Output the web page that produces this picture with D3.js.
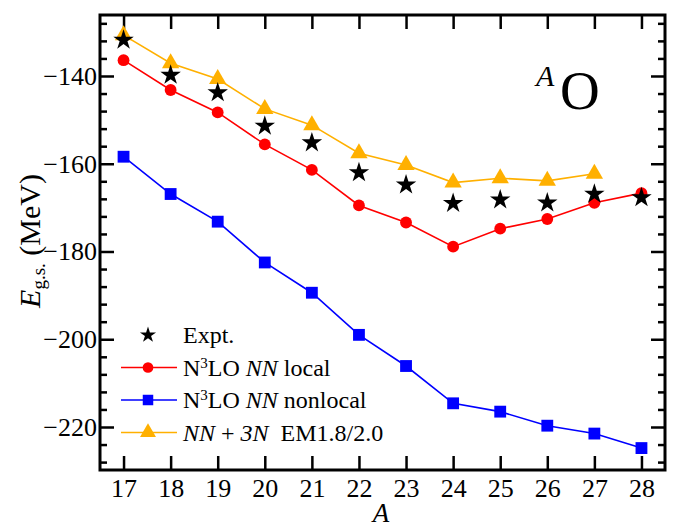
<!DOCTYPE html>
<html>
<head>
<meta charset="utf-8">
<script src="https://cdn.jsdelivr.net/npm/d3@7"></script>
<style>
  body { margin: 0; background: #fff; }
</style>
</head>
<body>
<svg id="chart" width="673" height="529"></svg>
<script>
// mass numbers
const massNumbers = [17, 18, 19, 20, 21, 22, 23, 24, 25, 26, 27, 28];

// ground state energies (MeV)
const expt = [-131.8, -139.8, -143.8, -151.4, -155.2, -162.0, -164.8, -169.0, -168.2, -168.9, -166.9, -167.7];
const n3loLocal = [-136.4, -143.2, -148.3, -155.6, -161.4, -169.5, -173.4, -178.9, -174.8, -172.6, -168.9, -166.7];
const n3loNonlocal = [-158.4, -166.9, -173.2, -182.5, -189.4, -199.0, -206.1, -214.6, -216.5, -219.7, -221.5, -224.8];
const em1820 = [-130.7, -137.1, -140.7, -147.5, -151.2, -157.6, -160.3, -164.3, -163.3, -163.9, -162.3];

const yMajorTicks = [-220, -200, -180, -160, -140];

const FONT = "Liberation Serif";

const svg = d3.select("#chart");
const margin = { left: 100, right: 8, top: 15, bottom: 59 };
const width = 673, height = 529;
const x0 = margin.left, x1 = width - margin.right;
const y0 = margin.top, y1 = height - margin.bottom;

const x = d3.scaleLinear().domain([16.5, 28.5]).range([x0, x1]);
const y = d3.scaleLinear().domain([-229.8, -126.1]).range([y1, y0]);

const minorTicks = d3.range(-228, -126, 4).filter(v => v % 20 !== 0);

// axes
const gAxes = svg.append("g");

function styleAxis(g) {
    g.attr("font-family", null);
    g.select(".domain").remove();
    g.selectAll(".tick line").attr("stroke", "#000").attr("stroke-width", 2.5);
    g.selectAll("text")
        .style("font-family", FONT)
        .attr("font-size", 26)
        .attr("fill", "#000");
}

// left
gAxes.append("g")
    .attr("transform", `translate(${x0},0)`)
    .call(d3.axisLeft(y).tickValues(yMajorTicks).tickSize(-14).tickPadding(3)
        .tickFormat(d => "\u2212" + Math.abs(d)))
    .call(styleAxis);
gAxes.append("g")
    .attr("transform", `translate(${x0},0)`)
    .call(d3.axisLeft(y).tickValues(minorTicks).tickSize(-7).tickFormat(""))
    .call(styleAxis);
// right
gAxes.append("g")
    .attr("transform", `translate(${x1},0)`)
    .call(d3.axisRight(y).tickValues(yMajorTicks).tickSize(-14).tickFormat(""))
    .call(styleAxis);
gAxes.append("g")
    .attr("transform", `translate(${x1},0)`)
    .call(d3.axisRight(y).tickValues(minorTicks).tickSize(-7).tickFormat(""))
    .call(styleAxis);
// bottom
gAxes.append("g")
    .attr("transform", `translate(0,${y1})`)
    .call(d3.axisBottom(x).tickValues(massNumbers).tickSize(-14).tickPadding(9)
        .tickFormat(d3.format("d")))
    .call(styleAxis);
// top
gAxes.append("g")
    .attr("transform", `translate(0,${y0})`)
    .call(d3.axisTop(x).tickValues(massNumbers).tickSize(-14).tickFormat(""))
    .call(styleAxis);

// frame
svg.append("rect")
    .attr("x", x0).attr("y", y0)
    .attr("width", x1 - x0).attr("height", y1 - y0)
    .attr("fill", "none").attr("stroke", "#000").attr("stroke-width", 3);

// series
const series = [
    { values: n3loNonlocal, color: "#0000ff", symbol: d3.symbolSquare, size: 140 },
    { values: n3loLocal, color: "#ff0000", symbol: d3.symbolCircle, size: 110 },
    { values: em1820, color: "#ffb000", symbol: d3.symbolTriangle, size: 130 }
];

const line = d3.line()
    .x((d, i) => x(massNumbers[i]))
    .y(d => y(d));

series.forEach(s => {
    svg.append("path")
        .datum(s.values)
        .attr("d", line)
        .attr("fill", "none")
        .attr("stroke", s.color)
        .attr("stroke-width", 1.6);
    svg.append("g")
        .selectAll("path")
        .data(s.values)
        .join("path")
        .attr("transform", (d, i) => `translate(${x(massNumbers[i])},${y(d)})`)
        .attr("d", d3.symbol(s.symbol, s.size))
        .attr("fill", s.color);
});

svg.append("g")
    .selectAll("path")
    .data(expt)
    .join("path")
    .attr("transform", (d, i) => `translate(${x(massNumbers[i])},${y(d)})`)
    .attr("d", d3.symbol(d3.symbolStar, 130))
    .attr("fill", "#000");

// nucleus label
svg.append("text")
    .attr("x", 536).attr("y", 86)
    .style("font-family", FONT)
    .attr("font-style", "italic").attr("font-size", 30)
    .attr("fill", "#000")
    .text("A");
svg.append("text")
    .attr("x", 560).attr("y", 109)
    .style("font-family", FONT)
    .attr("font-size", 55)
    .attr("fill", "#000")
    .text("O");

// legend
const legend = svg.append("g");
const legendRows = [
    { color: "#000", symbol: d3.symbolStar, size: 80, line: false,
      parts: [["Expt.", "normal"]] },
    { color: "#ff0000", symbol: d3.symbolCircle, size: 90, line: true,
      parts: [["N", "normal"], ["3", "sup"], ["LO ", "normal"], ["NN", "italic"], [" local", "normal"]] },
    { color: "#0000ff", symbol: d3.symbolSquare, size: 110, line: true,
      parts: [["N", "normal"], ["3", "sup"], ["LO ", "normal"], ["NN", "italic"], [" nonlocal", "normal"]] },
    { color: "#ffb000", symbol: d3.symbolTriangle, size: 110, line: true,
      parts: [["NN", "italic"], [" + ", "normal"], ["3N", "italic"], ["\u00a0 EM1.8/2.0", "normal"]] }
];

legendRows.forEach((r, i) => {
    const cy = 335 + i * 32.5;
    if (r.line) {
        legend.append("line")
            .attr("x1", 121).attr("x2", 177)
            .attr("y1", cy).attr("y2", cy)
            .attr("stroke", r.color).attr("stroke-width", 1.6);
    }
    legend.append("path")
        .attr("transform", `translate(148,${cy})`)
        .attr("d", d3.symbol(r.symbol, r.size))
        .attr("fill", r.color);
    const t = legend.append("text")
        .attr("x", 183).attr("y", cy + 8)
        .style("font-family", FONT)
        .attr("font-size", 24).attr("fill", "#000");
    r.parts.forEach(([txt, kind]) => {
        const ts = t.append("tspan").text(txt);
        if (kind === "italic") ts.attr("font-style", "italic");
        if (kind === "sup") ts.attr("font-size", 15).attr("baseline-shift", "55%");
        else ts.attr("baseline-shift", "0%");
    });
});

// axis titles
const yl = svg.append("text")
    .attr("transform", `translate(40,241) rotate(-90)`)
    .attr("text-anchor", "middle")
    .style("font-family", FONT)
    .attr("font-size", 30).attr("fill", "#000");
yl.append("tspan").attr("font-style", "italic").text("E");
yl.append("tspan").attr("font-size", 19).attr("baseline-shift", "-25%").text("g.s.");
yl.append("tspan").attr("baseline-shift", "0%").text(" (MeV)");

svg.append("text")
    .attr("x", 381).attr("y", 522)
    .attr("text-anchor", "middle")
    .style("font-family", FONT)
    .attr("font-size", 27).attr("font-style", "italic").attr("fill", "#000")
    .text("A");
</script>
</body>
</html>
